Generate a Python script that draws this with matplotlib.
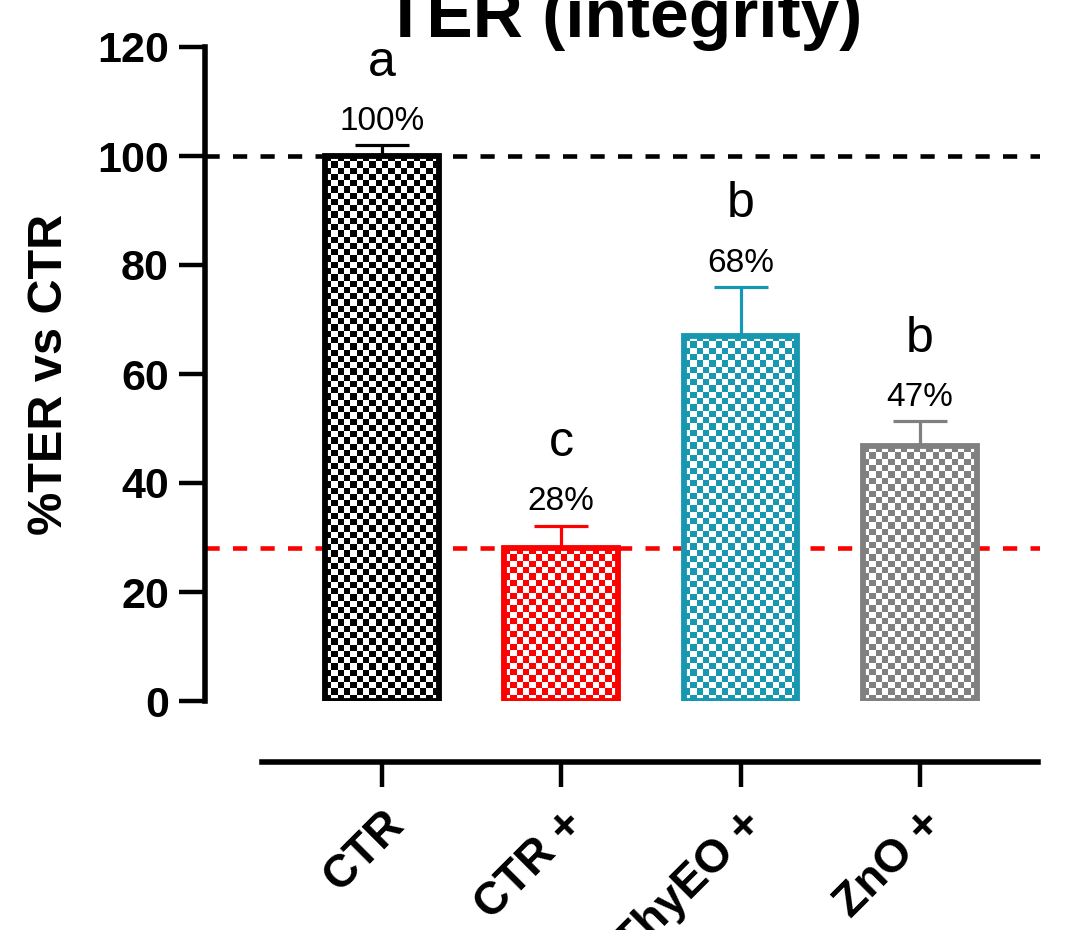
import numpy as np
import matplotlib
matplotlib.use('Agg')
import matplotlib.pyplot as plt
from matplotlib.colors import to_rgb

categories = ['CTR', 'CTR +', 'ThyEO +', 'ZnO +']
values = [100, 28, 67.0, 46.7]
errors = [2.0, 4.2, 9.0, 4.6]
pct_labels = ['100%', '28%', '68%', '47%']
letters = ['a', 'c', 'b', 'b']
colors = ['#000000', '#FF0000', '#1898B0', '#808080']
ref_lines = [100, 28]
ref_colors = ['#000000', '#FF0000']
yticks = [0, 20, 40, 60, 80, 100, 120]

plt.rcParams['font.family'] = ['Liberation Sans', 'DejaVu Sans']

W, H = 1077, 930
fig = plt.figure(figsize=(W / 100, H / 100), dpi=100)
ax = fig.add_axes([205 / W, 229 / H, 835 / W, 654 / H])
x = np.arange(len(categories))
ax.set_xlim(-0.987, 3.67)
ax.set_ylim(0, 120)

bar_w = 0.635
bars = ax.bar(x, values, width=bar_w, facecolor='none', edgecolor=colors,
              linewidth=4.2, zorder=3)

cell = 6.3
for b, c in zip(bars, colors):
    x0, y0 = b.get_x(), b.get_y()
    bw, bh = b.get_width(), b.get_height()
    p0 = ax.transData.transform((x0, y0))
    p1 = ax.transData.transform((x0 + bw, y0 + bh))
    nc = max(1, int(round((p1[0] - p0[0]) / cell)))
    nr = max(1, int(round((p1[1] - p0[1]) / cell)))
    ii, jj = np.indices((nr, nc))
    mask = ((ii + jj) % 2 == 0)
    img = np.ones((nr, nc, 3))
    img[mask] = to_rgb(c)
    im = ax.imshow(img, extent=[x0, x0 + bw, y0, y0 + bh], origin='upper',
                   interpolation='nearest', aspect='auto', zorder=2)
    im.set_clip_path(b)

ax.set_xlim(-0.987, 3.67)
ax.set_ylim(0, 120)

for xi, v, e, c in zip(x, values, errors, colors):
    ax.errorbar(xi, v, yerr=[[0], [e]], fmt='none', ecolor=c, elinewidth=2.3,
                capsize=19.5, capthick=2.3, zorder=1.8)

for yv, c in zip(ref_lines, ref_colors):
    ax.axhline(yv, color=c, lw=3.3, linestyle=(0, (3.1, 2.9)), zorder=1.5)

for xi, v, e, pl, lt in zip(x, values, errors, pct_labels, letters):
    top = v + e
    ax.annotate(pl, (xi, top), xytext=(0, 11), textcoords='offset points',
                ha='center', va='baseline', fontsize=24)
    ax.annotate(lt, (xi, top), xytext=(0, 50), textcoords='offset points',
                ha='center', va='baseline', fontsize=36)

for s in ['top', 'right']:
    ax.spines[s].set_visible(False)
ax.spines['left'].set_linewidth(4.0)
ax.spines['left'].set_bounds(0, 120)
ax.spines['bottom'].set_linewidth(4.0)
ax.spines['bottom'].set_position(('outward', 44))
ax.spines['bottom'].set_bounds(-0.669, 3.659)

ax.set_yticks(yticks)
ax.set_yticklabels([str(t) for t in yticks], fontweight='bold')
ax.tick_params(axis='y', length=19, width=3.2, labelsize=31, pad=7)
ax.set_xticks(x)
ax.set_xticklabels(categories, rotation=45, ha='right', va='top',
                   rotation_mode='anchor', fontweight='bold')
ax.tick_params(axis='x', length=18, width=3.2, labelsize=33, pad=11)

ax.set_ylabel('%TER vs CTR', fontsize=35, fontweight='bold', labelpad=18)

fig.text(623 / W, 1 - 37 / H, 'TER (integrity)', ha='center', va='baseline',
         fontsize=50, fontweight='bold')

fig.savefig('out.png', dpi=100)
